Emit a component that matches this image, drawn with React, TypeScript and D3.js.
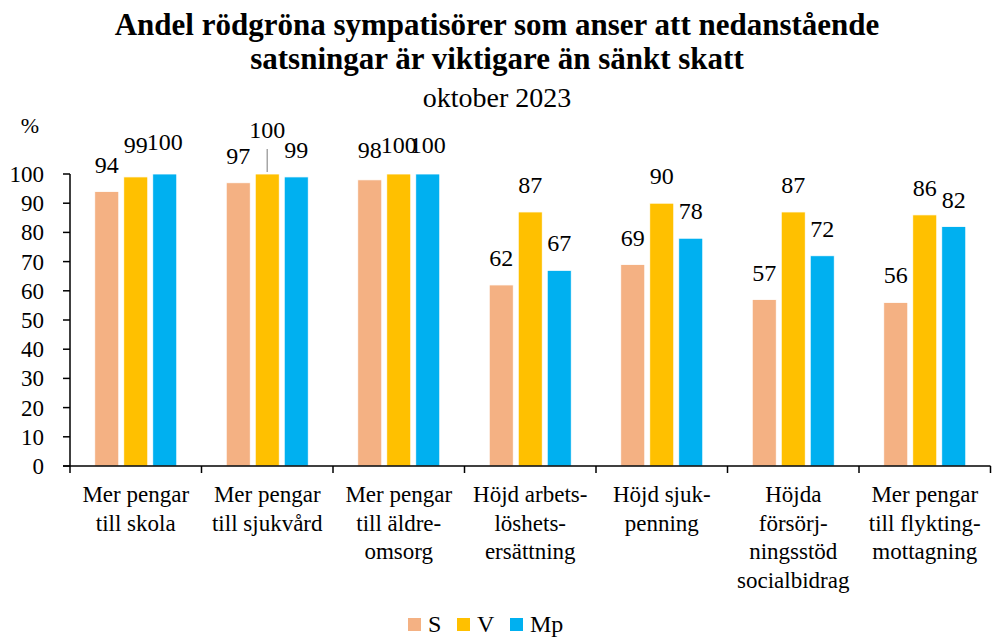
import React from "react";
import * as d3 from "d3";

const categories: string[][] = [
  ["Mer pengar", "till skola"],
  ["Mer pengar", "till sjukvård"],
  ["Mer pengar", "till äldre-", "omsorg"],
  ["Höjd arbets-", "löshets-", "ersättning"],
  ["Höjd sjuk-", "penning"],
  ["Höjda", "försörj-", "ningsstöd", "socialbidrag"],
  ["Mer pengar", "till flykting-", "mottagning"],
];
const seriesNames = ["S", "V", "Mp"];
const seriesColors = ["#F4B183", "#FFC000", "#00B0F0"];
const sValues = [94, 97, 98, 62, 69, 57, 56];
const vValues = [99, 100, 100, 87, 90, 87, 86];
const mpValues = [100, 99, 100, 67, 78, 72, 82];
const yTicks = [0, 10, 20, 30, 40, 50, 60, 70, 80, 90, 100];

const titleLines = [
  "Andel rödgröna sympatisörer som anser att nedanstående",
  "satsningar är viktigare än sänkt skatt",
];
const subtitle = "oktober 2023";

const W = 994;
const H = 639;
const FONT = "Liberation Serif, Tinos, Times New Roman, DejaVu Serif, serif";

export default function App() {
  const series = [sValues, vValues, mpValues];
  const left = 70;
  const right = 990.5;
  const top = 174;
  const bottom = 466;

  const x = d3
    .scaleBand<number>()
    .domain(categories.map((_, i) => i))
    .range([left, right]);
  const inner = d3
    .scaleBand<string>()
    .domain(seriesNames)
    .range([-41, 41])
    .paddingInner(0.172);
  const y = d3.scaleLinear().domain([0, 100]).range([bottom, top]);

  // label lift above bar top (manual tweaks like the original)
  const lift = (ci: number, si: number) => {
    const k = `${ci}-${si}`;
    if (k === "0-1" || k === "0-2") return 24;
    if (k === "1-1") return 36;
    if (k === "2-0") return 22;
    if (k === "2-1" || k === "2-2") return 21;
    return 19;
  };

  const boundaries = categories.map((_, i) => x(i)!).concat([right]);

  return (
    <svg
      width={W}
      height={H}
      viewBox={`0 0 ${W} ${H}`}
      style={{ position: "fixed", left: 0, top: 0, background: "#fff", fontFamily: FONT }}
    >
      {/* title */}
      <text x={W / 2} y={35} textAnchor="middle" fontSize={31} fontWeight="bold">
        {titleLines[0]}
      </text>
      <text x={W / 2} y={69} textAnchor="middle" fontSize={31} fontWeight="bold">
        {titleLines[1]}
      </text>
      <text x={W / 2} y={107} textAnchor="middle" fontSize={28}>
        {subtitle}
      </text>

      <text x={30} y={133} textAnchor="middle" fontSize={22}>
        %
      </text>

      {/* bars */}
      {categories.map((_, ci) => {
        const cx = x(ci)! + x.bandwidth() / 2;
        return (
          <g key={ci}>
            {series.map((vals, si) => {
              const bx = cx + inner(seriesNames[si])!;
              const v = vals[ci];
              return (
                <rect
                  key={si}
                  x={bx}
                  y={y(v)}
                  width={inner.bandwidth()}
                  height={bottom - y(v)}
                  fill={seriesColors[si]}
                  stroke="#fff"
                  strokeWidth={0.8}
                />
              );
            })}
            {series.map((vals, si) => {
              const bx = cx + inner(seriesNames[si])! + inner.bandwidth() / 2;
              const v = vals[ci];
              const ly = y(v) - lift(ci, si);
              return (
                <g key={"l" + si}>
                  {ci === 1 && si === 1 && (
                    <line x1={bx} x2={bx} y1={ly + 11} y2={y(v) - 2} stroke="#A6A6A6" strokeWidth={1.5} />
                  )}
                  <text x={bx} y={ly} textAnchor="middle" fontSize={24}>
                    {v}
                  </text>
                </g>
              );
            })}
          </g>
        );
      })}

      {/* y axis */}
      <line x1={left} x2={left} y1={top} y2={bottom} stroke="#000" strokeWidth={1.5} />
      {yTicks.map((t) => (
        <g key={t}>
          <line x1={left - 7} x2={left} y1={y(t)} y2={y(t)} stroke="#000" strokeWidth={1.5} />
          <text x={44} y={y(t)} dy="0.35em" textAnchor="end" fontSize={23}>
            {t}
          </text>
        </g>
      ))}

      {/* x axis */}
      <line x1={left - 7} x2={right} y1={bottom} y2={bottom} stroke="#000" strokeWidth={1.5} />
      {boundaries.map((bx, i) => (
        <line key={i} x1={bx} x2={bx} y1={bottom} y2={bottom + 7} stroke="#000" strokeWidth={1.5} />
      ))}
      {categories.map((lines, ci) => (
        <text
          key={ci}
          x={x(ci)! + x.bandwidth() / 2}
          y={502}
          textAnchor="middle"
          fontSize={23}
        >
          {lines.map((ln, li) => (
            <tspan key={li} x={x(ci)! + x.bandwidth() / 2} y={502 + li * 28.5}>
              {ln}
            </tspan>
          ))}
        </text>
      ))}

      {/* legend */}
      {seriesNames.map((name, si) => {
        const lx = [408, 457, 510][si];
        return (
          <g key={name}>
            <rect x={lx} y={618} width={13} height={13} fill={seriesColors[si]} />
            <text x={lx + 20} y={632} fontSize={24}>
              {name}
            </text>
          </g>
        );
      })}
    </svg>
  );
}
